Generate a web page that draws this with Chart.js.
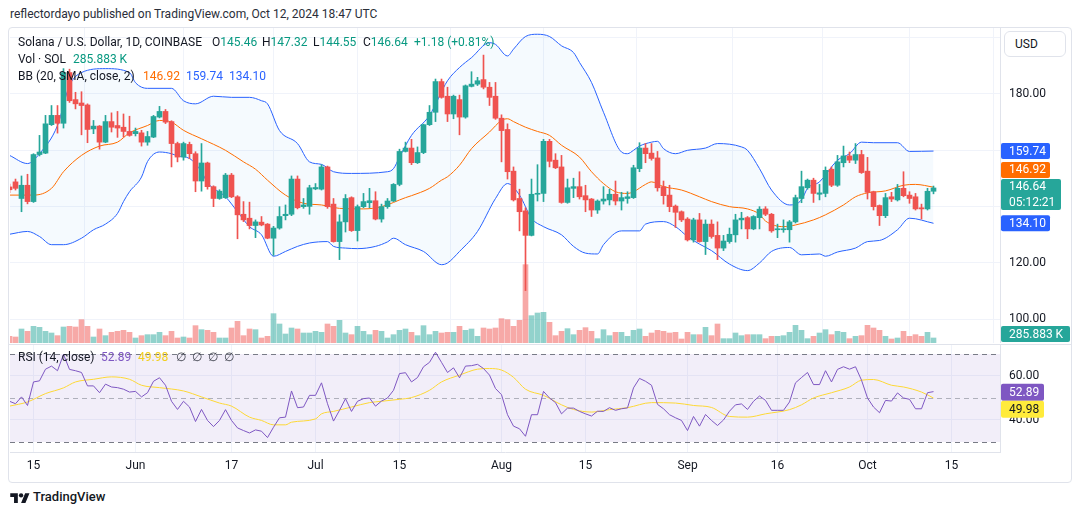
<!DOCTYPE html>
<html>
<head>
<meta charset="utf-8">
<script src="https://cdn.jsdelivr.net/npm/chart.js@4.4.0/dist/chart.umd.min.js"></script>
<style>
  body { margin: 0; background: #fff; width: 1080px; height: 515px; overflow: hidden;
         font-family: Roboto, "Noto Sans", sans-serif; color: #131722; }
  .abs { position: absolute; white-space: nowrap; font-size: 12px; line-height: 14px; }
  .teal { color: #089981; }
  #frame { position: absolute; left: 8px; top: 27px; width: 1064px; height: 456px;
           border: 1px solid #e0e3eb; border-radius: 4px; box-sizing: border-box; }
  #usd { position: absolute; left: 1004px; top: 31px; width: 62px; height: 26px; box-sizing: border-box;
         border: 1px solid #e0e3eb; border-radius: 6px; font-size: 12px; line-height: 24px; padding-left: 10px; background: #fff; }
  canvas { position: absolute; }
</style>
</head>
<body>
<div class="abs" style="left:10px;top:7px;color:#2a2e39;">reflectordayo published on TradingView.com, Oct 12, 2024 18:47 UTC</div>
<div id="frame"></div>
<canvas id="main" width="1062" height="315" style="left:10px;top:28px"></canvas>
<div style="position:absolute;left:9px;top:344px;width:1062px;height:1px;background:#e0e3eb"></div>
<canvas id="rsi" width="1062" height="137" style="left:10px;top:345px"></canvas>
<div id="usd">USD</div>

<div class="abs" style="left:18px;top:35px">Solana / U.S. Dollar, 1D, COINBASE</div>
<div class="abs" style="left:212px;top:35px">O<span class="teal">145.46</span></div>
<div class="abs" style="left:262px;top:35px">H<span class="teal">147.32</span></div>
<div class="abs" style="left:313px;top:35px">L<span class="teal">144.55</span></div>
<div class="abs" style="left:363px;top:35px">C<span class="teal">146.64</span></div>
<div class="abs teal" style="left:414px;top:35px">+1.18 (+0.81%)</div>
<div class="abs" style="left:18px;top:52px">Vol · SOL</div>
<div class="abs teal" style="left:73px;top:52px">285.883 K</div>
<div class="abs" style="left:18px;top:69px">BB (20, SMA, close, 2)</div>
<div class="abs" style="left:143px;top:69px;color:#ff6d00">146.92</div>
<div class="abs" style="left:186px;top:69px;color:#2962ff">159.74</div>
<div class="abs" style="left:229px;top:69px;color:#2962ff">134.10</div>

<div class="abs" style="left:18px;top:350px">RSI (14, close)</div>
<div class="abs" style="left:101px;top:350px;color:#7e57c2">52.89</div>
<div class="abs" style="left:138px;top:350px;color:#f2cf1d">49.98</div>
<div class="abs" style="left:176px;top:350px;color:#434651">∅</div>
<div class="abs" style="left:192px;top:350px;color:#434651">∅</div>
<div class="abs" style="left:208px;top:350px;color:#434651">∅</div>
<div class="abs" style="left:224px;top:350px;color:#434651">∅</div>

<svg style="position:absolute;left:10px;top:491px" width="20" height="13" viewBox="0 0 36 24">
  <path d="M14 22H7V11H0V4h14v18zM28 22h-8l7.5-18h8L28 22z" fill="#131722"/>
  <circle cx="20" cy="8" r="4" fill="#131722"/>
</svg>
<div class="abs" style="left:33px;top:490px;font-size:13px;font-weight:500">TradingView</div>

<script>
// days counted from May 11, 2024 (day 0) to Oct 12, 2024 (day 154)
const tickDays = [4, 21, 37, 51, 65, 82, 96, 113, 128, 143, 157];
const tickLabels = ['15', 'Jun', '17', 'Jul', '15', 'Aug', '15', 'Sep', '16', 'Oct', '15'];

const opens = [147.0, 148.8, 142.9, 147.6, 141.8, 158.5, 159.0, 169.1, 172.4, 169.6, 187.6, 178.0, 176.8, 176.1, 167.6, 168.6, 162.9, 170.2, 168.8, 168.2, 166.7,
  165.9, 166.2, 162.9, 164.7, 171.8, 173.8, 170.2, 162.4, 157.6, 162.1, 158.8, 149.1, 155.5, 147.1, 142.9, 143.2, 151.2, 143.5, 137.3, 135.9,
  133.3, 134.5, 133.8, 128.8, 132.4, 136.8, 137.3, 149.8, 140.0, 140.1, 146.3, 146.2, 154.1, 140.9, 127.6, 134.6, 143.2, 131.5, 140.0, 141.4, 142.1, 135.6,
  140.0, 142.0, 147.9, 159.6, 160.8, 155.6, 159.2, 169.1, 173.5, 184.4, 179.2, 172.9, 178.0, 171.8, 182.7, 183.5, 185.1, 182.4, 179.2, 171.4, 167.4,
  152.6, 142.9, 138.5, 129.8, 144.4, 144.7, 163.2, 156.5, 154.1, 141.5, 146.5, 147.1, 143.9, 142.7, 138.8, 142.0, 142.4, 144.4, 142.0, 142.9, 143.2,
  153.5, 160.8, 159.0, 157.3, 147.1, 144.1, 140.2, 138.2, 135.6, 128.2, 135.3, 127.6, 133.8, 129.8, 125.3, 127.6, 130.0, 135.3, 136.1, 132.1,
  136.1, 139.2, 137.3, 131.8, 131.8, 131.8, 134.6, 142.9, 146.7, 149.4, 144.4, 144.7, 153.3, 147.6, 155.6, 158.0, 156.5, 158.5, 152.6, 145.3, 140.4,
  136.8, 143.5, 142.4, 146.5, 144.1, 143.5, 139.6, 139.2, 145.46];
const highs = [148.0, 149.8, 150.9, 151.5, 158.8, 165.3, 172.4, 175.9, 175.9, 189.0, 188.8, 180.6, 180.8, 176.5, 170.6, 168.8, 172.4, 173.3, 173.8, 172.9, 172.1,
  167.9, 167.1, 166.7, 172.4, 175.6, 174.5, 170.5, 162.9, 162.9, 162.9, 159.5, 162.4, 155.8, 147.4, 146.0, 151.8, 151.8, 143.9, 141.8, 141.6,
  135.3, 136.5, 134.0, 133.0, 140.0, 140.6, 150.9, 150.9, 142.9, 147.6, 148.2, 154.9, 154.4, 142.9, 137.1, 144.3, 143.5, 140.6, 144.7, 146.5, 145.3, 140.9,
  142.9, 148.2, 160.4, 162.9, 163.9, 161.2, 169.3, 175.9, 185.3, 185.3, 182.4, 179.6, 179.6, 183.2, 187.9, 185.9, 193.8, 184.1, 184.1, 172.6, 169.4,
  154.1, 146.2, 139.6, 149.8, 154.9, 163.9, 163.9, 158.8, 158.2, 149.8, 150.1, 152.4, 147.6, 142.9, 142.4, 147.1, 146.2, 149.1, 145.1, 145.3, 154.7,
  162.7, 162.4, 162.4, 159.6, 149.1, 147.6, 140.6, 138.5, 136.1, 135.9, 137.6, 135.3, 135.3, 134.6, 129.8, 132.4, 137.3, 138.0, 136.5, 136.8,
  140.0, 140.0, 137.6, 133.8, 135.3, 135.1, 144.1, 152.6, 149.8, 150.1, 147.9, 154.1, 154.1, 158.2, 161.5, 159.4, 162.4, 160.0, 157.5, 145.5, 140.6,
  144.7, 145.1, 147.9, 152.4, 145.3, 144.7, 140.9, 146.5, 147.32];
const lows = [145.0, 145.9, 138.2, 141.0, 141.5, 158.0, 158.8, 168.8, 166.1, 167.9, 177.0, 174.7, 165.5, 162.7, 165.9, 160.4, 162.7, 166.5, 164.6, 164.7, 165.0,
  165.1, 161.5, 161.8, 164.5, 171.5, 169.5, 154.1, 155.9, 156.5, 157.0, 145.3, 145.5, 146.2, 140.0, 142.6, 142.9, 143.2, 128.6, 134.7, 132.1,
  129.0, 133.2, 128.6, 122.7, 132.0, 135.3, 136.8, 139.2, 139.4, 137.3, 146.0, 145.9, 139.4, 127.4, 121.2, 131.0, 131.2, 127.8, 139.6, 139.6, 135.3, 134.5,
  139.4, 141.8, 147.4, 159.4, 154.9, 155.3, 158.8, 168.8, 170.2, 178.5, 170.2, 171.2, 165.5, 171.4, 182.5, 183.0, 181.8, 175.9, 171.0, 155.9, 149.8,
  142.0, 131.4, 110.2, 129.6, 142.0, 141.8, 154.1, 153.5, 141.2, 141.2, 143.2, 142.7, 138.2, 136.5, 137.6, 140.9, 140.6, 140.6, 138.8, 141.2, 142.9,
  152.4, 155.6, 156.5, 145.5, 140.9, 138.2, 132.6, 134.7, 127.8, 127.4, 127.4, 123.0, 128.8, 121.2, 124.4, 127.0, 127.4, 132.1, 128.6, 131.8,
  132.1, 136.8, 130.9, 129.0, 130.9, 127.4, 134.2, 141.4, 146.2, 141.5, 142.4, 143.5, 147.1, 147.2, 154.1, 155.6, 155.3, 151.8, 142.7, 138.8, 133.3,
  136.1, 141.8, 142.0, 143.5, 141.2, 138.8, 135.6, 138.8, 144.55];
const closes = [146.0, 146.5, 147.6, 141.8, 158.5, 159.4, 169.4, 172.4, 169.6, 187.6, 177.6, 176.5, 175.9, 167.4, 168.6, 162.9, 170.2, 168.2, 167.9, 166.7, 165.3,
  166.7, 162.9, 164.9, 172.0, 173.8, 170.0, 162.4, 157.6, 162.4, 158.8, 149.1, 155.5, 147.1, 142.9, 145.5, 151.2, 143.5, 137.1, 135.3, 133.3,
  134.6, 133.5, 128.8, 132.4, 136.5, 137.3, 149.8, 139.6, 140.6, 146.7, 146.8, 154.1, 140.0, 127.6, 134.6, 142.9, 131.5, 140.0, 141.8, 142.1, 135.6, 140.0,
  142.0, 147.9, 159.6, 160.8, 155.6, 159.2, 169.1, 173.5, 184.4, 178.8, 172.9, 179.2, 171.8, 182.9, 183.5, 184.7, 182.4, 178.8, 171.4, 167.0, 152.4,
  142.4, 138.2, 129.8, 144.4, 144.7, 163.2, 156.1, 153.8, 141.5, 146.7, 147.1, 143.5, 142.4, 138.8, 142.0, 142.7, 144.4, 142.0, 143.2, 143.5, 153.8,
  160.8, 158.8, 157.1, 146.7, 143.9, 140.0, 138.0, 135.3, 128.2, 135.3, 127.6, 133.8, 129.4, 125.3, 127.8, 130.2, 135.3, 135.9, 132.1, 136.5,
  139.1, 137.3, 131.4, 132.1, 132.1, 134.6, 143.2, 147.1, 149.4, 144.7, 144.9, 152.9, 147.6, 155.9, 158.0, 156.5, 158.5, 152.1, 145.1, 140.0, 136.8,
  143.2, 142.7, 146.5, 143.9, 142.9, 139.2, 139.2, 145.46, 146.64];
// thousands of SOL
const volumes = [380, 342, 798, 665, 950, 893, 665, 570, 418, 912, 950, 912, 1330, 950, 342, 798, 418, 608, 665, 722, 608,
  285, 418, 475, 475, 608, 418, 665, 285, 342, 285, 988, 760, 722, 608, 285, 285, 855, 1235, 418, 798,
  760, 285, 380, 1672, 1083, 513, 855, 798, 570, 570, 665, 608, 1083, 950, 1292, 570, 475, 950, 665, 475, 722, 665,
  285, 475, 722, 798, 608, 418, 988, 475, 665, 570, 608, 608, 950, 722, 798, 380, 855, 798, 855, 1387, 1330,
  950, 1292, 4465, 1558, 1710, 1748, 1178, 418, 665, 817, 475, 722, 874, 665, 247, 760, 418, 608, 608, 380, 722,
  798, 380, 570, 722, 665, 570, 608, 228, 608, 475, 475, 893, 418, 1083, 247, 247, 570, 418, 475, 475,
  475, 247, 380, 380, 418, 608, 1007, 722, 247, 380, 570, 760, 475, 665, 608, 247, 380, 418, 1007, 855, 722,
  380, 228, 285, 665, 380, 475, 380, 608, 285.883];

// Bollinger bands: [day, value]
const bbUpper = [[0,158.2],[3,155.3],[5,158.8],[8,168.8],[10,183],[12,187.6],[16,189],[20,187.6],[21,184],[23,182],[27,182],[29,177.6],[31,176.5],
  [34,179.2],[37,178.8],[40,178.8],[42,177.6],[43,176.5],[45,167],[48,162.4],[50,155.9],[52,155],[54,152.4],[57,151.8],[63,152.4],[64,153.5],[65,157.6],
  [67,165.3],[70,172.4],[73,184.7],[75,189.4],[77,192.9],[80,198.2],[81,197.6],[83,193.5],[84,195.9],[86,200.4],[88,201.2],[90,200.4],[92,197.1],
  [94,194.7],[95,191.2],[97,184.1],[99,173.5],[102,159.4],[103,158.8],[104,160],[105,161.5],[107,162.9],[108,163.2],[109,160.6],[111,158.8],[113,160],
  [116,160.8],[118,162.4],[122,161.2],[123,160],[125,153.5],[127,145.9],[130,140.6],[132,142.4],[133,146.5],[135,148.8],[138,156.5],[140,158.8],
  [142,162.9],[144,162.7],[148,162.7],[150,159.6],[154,159.74]];
const bbBasis = [[0,144.1],[4,144.1],[7,146.5],[9,152.4],[12,158.2],[15,161.5],[18,162.9],[20,166.2],[23,168.8],[25,170.6],[27,170],[29,167.1],
  [32,164.1],[36,160],[39,155.9],[41,153.3],[43,149.4],[46,144.1],[49,141.2],[52,140.6],[55,139.4],[59,139.2],[62,140],[66,143.2],[67,143.9],
  [70,146.5],[72,149.4],[73,150.6],[75,154.7],[77,160.6],[80,166.5],[82,170.6],[83,171.2],[84,170.2],[86,168.2],[88,166.7],[90,165.3],[92,161.8],
  [95,157.6],[97,152.4],[99,148.2],[101,145.3],[103,144.7],[104,145.3],[106,147.9],[107,148.8],[109,147.1],[112,145.9],[115,143.5],[117,141.8],
  [120,140],[123,139.2],[125,137.3],[126,134.9],[129,132.9],[131,133.5],[134,135.3],[136,137.1],[139,140.6],[141,143.5],[143,144.9],[146,145.6],
  [149,147.6],[151,147.9],[154,146.92]];
const bbLower = [[0,130.2],[3,131.2],[5,129.4],[7,126.5],[9,126.5],[12,128.8],[14,131.8],[16,133.8],[18,137.6],[19,141.8],[20,145.3],[22,150.5],
  [23,156],[25,159.4],[27,158.8],[28,158],[30,157.1],[32,152.4],[33,148.5],[36,143.5],[38,138.2],[40,132.9],[42,130],[44,122.4],[46,124.1],[48,125.9],
  [50,127.1],[53,127.6],[54,125.9],[56,125.3],[58,125.1],[61,125.9],[63,127.5],[64,128.8],[66,126.5],[69,124.1],[72,119.4],[73,120],[75,124.1],
  [78,131.2],[81,142.9],[83,148.2],[85,144.1],[87,135.9],[89,132.9],[92,130],[94,125.9],[96,123.5],[98,123.2],[99,126.5],[102,131.4],[105,131.4],
  [106,133.8],[109,134.7],[111,132.9],[113,129.4],[115,126.7],[117,124.4],[120,119.6],[123,117.3],[125,120],[127,124.1],[130,125.5],[132,122.9],
  [135,123.2],[136,122.4],[138,123.9],[141,125.3],[143,127.6],[145,128],[148,131.8],[150,135.9],[154,134.1]];

const rsiValues = [48.5, 47.4, 50.5, 46.6, 57.3, 57.8, 63.1, 64.5, 62.4, 69.8, 63, 62.4, 61.6, 55.5, 55.5, 52.4, 56.3, 55, 54.7, 54, 52.7,
  53, 50.5, 52.4, 57.6, 59.2, 55.8, 48.5, 44.8, 48.5, 45.9, 39.3, 44.8, 39.8, 37, 39.8, 44.7, 39.8, 36.4, 35.2, 34.1,
  35.5, 34.9, 32, 36.7, 41, 41.3, 53.2, 45.6, 45.9, 51.2, 51.2, 56.9, 47.4, 39.5, 44.4, 49.7, 43.9, 48.5, 49.7, 50, 46.3, 48.6,
  50, 53.5, 61.1, 61.5, 57.3, 59.3, 64.2, 66.2, 70.8, 66.2, 61.6, 63.7, 59.2, 64.5, 64.7, 65.3, 63.4, 60.4, 54.3, 51.5, 42.4,
  37.2, 36, 32.6, 42.4, 42.4, 53, 50, 47.9, 42.8, 45.4, 45.4, 43.9, 42.8, 41.8, 44, 43.9, 45.6, 44.4, 45.1, 45.5, 54.6,
  58.9, 57.6, 55.8, 47.1, 45.1, 42.4, 41, 39.8, 35.2, 41.6, 37.2, 42.5, 39.8, 37.5, 40, 44, 46.9, 47.3, 44.8, 48.5,
  50.9, 48.9, 44.4, 44.4, 44.4, 48.2, 56.9, 59.3, 61.6, 56.1, 56.1, 62.4, 57.3, 63, 64.2, 63.1, 64.2, 58.1, 50, 45.9, 43.3,
  48.9, 48.6, 52.3, 50, 49.4, 45.1, 45.1, 52.4, 52.89];
const rsiMa = [[0,46.3],[3,48.2],[6,52],[9,54.6],[11,57.3],[14,58.5],[17,59.6],[20,58.5],[22,55.8],[25,54.7],[29,53.2],[32,50.5],[35,47.7],
  [37,46.3],[40,41.3],[42,39.8],[44,37.8],[46,37.8],[47,39],[51,40.5],[52,42.8],[54,43.9],[57,45.9],[60,47.9],[62,48.5],[65,49.4],[67,50.2],
  [70,53.5],[72,57.3],[75,60.4],[78,63.1],[80,63.4],[82,62.7],[84,59.4],[86,54],[89,51.2],[92,46.9],[94,44.8],[97,43.6],[100,44.7],[103,45.6],
  [107,47.9],[111,47.7],[114,46.6],[117,45.7],[120,41.6],[123,41.3],[126,42.8],[130,44.7],[132,46.9],[134,50],[137,52.4],[140,55],[142,58.1],
  [144,58.4],[147,55.8],[149,55],[152,52.7],[154,49.98]];

const GREEN = '#26a69a', RED = '#ef5350';
const xMin = 1 / 12, xMax = 1 / 12 + 165;
Chart.defaults.font.family = 'Roboto, "Noto Sans", sans-serif';
Chart.defaults.font.size = 12;
Chart.defaults.color = '#131722';

var isUp = closes.map((c, i) => c >= opens[i]);
var pairs = arr => arr.map(p => ({x: p[0], y: p[1]}));
var setTicks = list => scale => { scale.ticks = list.map(v => ({value: v})); };

function badge(ctx, x, top, w, h, bg, fg, lines) {
    ctx.fillStyle = bg;
    ctx.beginPath();
    ctx.roundRect(x, top, w, h, 2);
    ctx.fill();
    ctx.fillStyle = fg;
    ctx.textAlign = 'left';
    ctx.textBaseline = 'middle';
    ctx.font = '12px Roboto, "Noto Sans", sans-serif';
    lines.forEach((t, k) => ctx.fillText(t, x + 8, top + h / lines.length / 2 + k * (h / lines.length) + 0.5));
}

var priceAxisPlugin = {
    id: 'priceAxis',
    afterDraw(chart) {
        var ctx = chart.ctx, ys = chart.scales.y, area = chart.chartArea;
        var lx = area.right + 9;
        ctx.save();
        ctx.font = '12px Roboto, "Noto Sans", sans-serif';
        ctx.fillStyle = '#131722';
        ctx.textAlign = 'left';
        ctx.textBaseline = 'middle';
        [200, 180, 160, 140, 120, 100].forEach(v => ctx.fillText(v.toFixed(2), lx, ys.getPixelForValue(v)));
        var bx = area.right + 1;
        var yUp = ys.getPixelForValue(159.74);
        badge(ctx, bx, yUp - 8, 49, 16, '#2962ff', '#fff', ['159.74']);
        var yP = ys.getPixelForValue(closes[closes.length - 1]);
        badge(ctx, bx, yP - 9, 60, 31, GREEN, '#fff', ['146.64', '05:12:21']);
        badge(ctx, bx, yP - 26, 49, 16, '#ff6d00', '#fff', ['146.92']);
        var yLo = ys.getPixelForValue(134.10);
        badge(ctx, bx, yLo - 8, 49, 16, '#2962ff', '#fff', ['134.10']);
        ctx.font = '12px Roboto, "Noto Sans", sans-serif';
        var vw = ctx.measureText('285.883 K').width;
        badge(ctx, bx, area.bottom - 17, Math.ceil(vw) + 14, 16, GREEN, '#fff', ['285.883 K']);
        ctx.restore();
    }
};

new Chart(document.getElementById('main'), {
    type: 'bar',
    data: {
        datasets: [
            { type: 'line', data: pairs(bbUpper), yAxisID: 'y', borderColor: '#2962ff', borderWidth: 1, pointRadius: 0,
              cubicInterpolationMode: 'monotone', fill: '+2', backgroundColor: 'rgba(33,150,243,0.045)', order: 3 },
            { type: 'line', data: pairs(bbBasis), yAxisID: 'y', borderColor: '#ff6d00', borderWidth: 1, pointRadius: 0,
              cubicInterpolationMode: 'monotone', fill: false, order: 2 },
            { type: 'line', data: pairs(bbLower), yAxisID: 'y', borderColor: '#2962ff', borderWidth: 1, pointRadius: 0,
              cubicInterpolationMode: 'monotone', fill: false, order: 3 },
            { data: volumes.map((v, i) => ({x: i, y: v})), yAxisID: 'yv', barThickness: 5, grouped: false,
              backgroundColor: isUp.map(u => u ? 'rgba(38,166,154,0.5)' : 'rgba(239,83,80,0.5)'), order: 4 },
            { data: highs.map((h, i) => ({x: i, y: [lows[i], h]})), yAxisID: 'y', barThickness: 1, grouped: false,
              backgroundColor: isUp.map(u => u ? GREEN : RED), order: 1 },
            { data: opens.map((o, i) => ({x: i, y: [Math.min(o, closes[i]), Math.max(o, closes[i])]})), yAxisID: 'y',
              barThickness: 5, grouped: false, minBarLength: 1, backgroundColor: isUp.map(u => u ? GREEN : RED), order: 0 }
        ]
    },
    options: {
        responsive: false,
        animation: false,
        events: [],
        layout: { padding: 0 },
        plugins: { legend: { display: false }, tooltip: { enabled: false } },
        scales: {
            x: { type: 'linear', min: xMin, max: xMax, offset: false, afterBuildTicks: setTicks(tickDays),
                 ticks: { display: false }, grid: { color: '#f0f3fa', drawTicks: false }, border: { display: false },
                 afterFit: s => { s.height = 0; } },
            y: { type: 'linear', position: 'right', min: 91.6, max: 203.42, afterBuildTicks: setTicks([100, 120, 140, 160, 180, 200]),
                 ticks: { display: false }, grid: { color: '#f0f3fa', drawTicks: false }, border: { color: '#e0e3eb' },
                 afterFit: s => { s.width = 72; } },
            yv: { type: 'linear', display: false, min: 0, max: 17955 }
        }
    },
    plugins: [priceAxisPlugin]
});

var rsiPanelPlugin = {
    id: 'rsiPanel',
    beforeDatasetsDraw(chart) {
        var ctx = chart.ctx, ys = chart.scales.y, a = chart.chartArea;
        ctx.save();
        ctx.fillStyle = 'rgba(126,87,194,0.1)';
        var y70 = ys.getPixelForValue(70), y30 = ys.getPixelForValue(30), y50 = ys.getPixelForValue(50);
        ctx.fillRect(a.left, y70, a.right - a.left, y30 - y70);
        ctx.lineWidth = 1;
        ctx.setLineDash([5, 4]);
        [[y70, '#787b86'], [y30, '#787b86'], [y50, 'rgba(120,123,134,0.55)']].forEach(l => {
            ctx.strokeStyle = l[1];
            ctx.beginPath();
            ctx.moveTo(a.left, Math.round(l[0]) + 0.5);
            ctx.lineTo(a.right, Math.round(l[0]) + 0.5);
            ctx.stroke();
        });
        ctx.restore();
    },
    afterDraw(chart) {
        var ctx = chart.ctx, ys = chart.scales.y, a = chart.chartArea;
        ctx.save();
        ctx.font = '12px Roboto, "Noto Sans", sans-serif';
        ctx.fillStyle = '#131722';
        ctx.textAlign = 'left';
        ctx.textBaseline = 'middle';
        [60, 40].forEach(v => ctx.fillText(v.toFixed(2), a.right + 9, ys.getPixelForValue(v)));
        var yr = ys.getPixelForValue(rsiValues[rsiValues.length - 1]);
        badge(ctx, a.right + 1, yr - 8, 43, 17, '#7e57c2', '#fff', ['52.89']);
        badge(ctx, a.right + 1, yr + 9, 43, 17, '#ffeb3b', '#131722', ['49.98']);
        ctx.restore();
    }
};

new Chart(document.getElementById('rsi'), {
    type: 'line',
    data: {
        datasets: [
            { data: rsiValues.map((v, i) => ({x: i, y: v})), borderColor: '#7e57c2', borderWidth: 1, pointRadius: 0, order: 0 },
            { data: pairs(rsiMa), borderColor: '#fdd835', borderWidth: 1, pointRadius: 0, cubicInterpolationMode: 'monotone', order: 1 }
        ]
    },
    options: {
        responsive: false,
        animation: false,
        events: [],
        layout: { padding: 0 },
        plugins: { legend: { display: false }, tooltip: { enabled: false } },
        scales: {
            x: { type: 'linear', min: xMin, max: xMax, offset: false, afterBuildTicks: setTicks(tickDays),
                 ticks: { autoSkip: false, maxRotation: 0, padding: 7, color: '#131722',
                          callback: v => tickLabels[tickDays.indexOf(v)] },
                 grid: { color: '#f0f3fa', drawTicks: false }, border: { color: '#e0e3eb' },
                 afterFit: s => { s.height = 30; } },
            y: { type: 'linear', position: 'right', min: 25.45, max: 74.09, afterBuildTicks: setTicks([40, 60]),
                 ticks: { display: false }, grid: { color: '#f0f3fa', drawTicks: false }, border: { color: '#e0e3eb' },
                 afterFit: s => { s.width = 72; } }
        }
    },
    plugins: [rsiPanelPlugin]
});
</script>
</body>
</html>
